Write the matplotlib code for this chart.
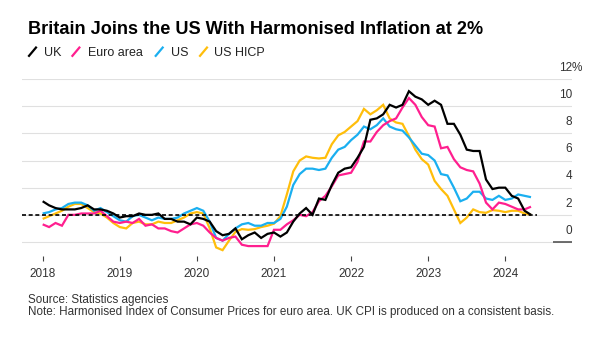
import matplotlib
matplotlib.use("Agg")
import matplotlib.pyplot as plt
from matplotlib.lines import Line2D
import numpy as np
import pandas as pd

plt.rcParams["font.family"] = ["Liberation Sans", "DejaVu Sans"]

# Monthly year-on-year inflation, Jan 2018 - May 2024 (%)
start_month = "2018-01"

uk = [3.0, 2.7, 2.5, 2.4, 2.4, 2.4, 2.5, 2.7, 2.4, 2.4, 2.3, 2.1,
      1.8, 1.9, 1.9, 2.1, 2.0, 2.0, 2.1, 1.7, 1.7, 1.5, 1.5, 1.3,
      1.8, 1.7, 1.5, 0.8, 0.5, 0.6, 1.0, 0.2, 0.5, 0.7, 0.3, 0.6,
      0.7, 0.4, 0.7, 1.5, 2.1, 2.5, 2.0, 3.2, 3.1, 4.2, 5.1, 5.4,
      5.5, 6.2, 7.0, 9.0, 9.1, 9.4, 10.1, 9.9, 10.1, 11.1, 10.7, 10.5,
      10.1, 10.4, 10.1, 8.7, 8.7, 7.9, 6.8, 6.7, 6.7, 4.6, 3.9, 4.0,
      4.0, 3.4, 3.2, 2.3, 2.0]

euro_area = [1.3, 1.1, 1.4, 1.2, 2.0, 2.0, 2.1, 2.1, 2.1, 2.3, 1.9, 1.5,
             1.4, 1.5, 1.4, 1.7, 1.2, 1.3, 1.0, 1.0, 0.8, 0.7, 1.0, 1.3,
             1.4, 1.2, 0.7, 0.3, 0.1, 0.3, 0.4, -0.2, -0.3, -0.3, -0.3, -0.3,
             0.9, 0.9, 1.3, 1.6, 2.0, 1.9, 2.2, 3.0, 3.4, 4.1, 4.9, 5.0,
             5.1, 5.9, 7.4, 7.4, 8.1, 8.6, 8.9, 9.1, 9.9, 10.6, 10.1, 9.2,
             8.6, 8.5, 6.9, 7.0, 6.1, 5.5, 5.3, 5.2, 4.3, 2.9, 2.4, 2.9,
             2.8, 2.6, 2.4, 2.4, 2.6]

us = [2.1, 2.2, 2.4, 2.5, 2.8, 2.9, 2.9, 2.7, 2.3, 2.5, 2.2, 1.9,
      1.6, 1.5, 1.9, 2.0, 1.8, 1.6, 1.8, 1.7, 1.7, 1.8, 2.1, 2.3,
      2.5, 2.3, 1.5, 0.3, 0.1, 0.6, 1.0, 1.3, 1.4, 1.2, 1.2, 1.4,
      1.4, 1.7, 2.6, 4.2, 5.0, 5.4, 5.4, 5.3, 5.4, 6.2, 6.8, 7.0,
      7.5, 7.9, 8.5, 8.3, 8.6, 9.1, 8.5, 8.3, 8.2, 7.7, 7.1, 6.5,
      6.4, 6.0, 5.0, 4.9, 4.0, 3.0, 3.2, 3.7, 3.7, 3.2, 3.1, 3.4,
      3.1, 3.2, 3.5, 3.4, 3.3]

us_hicp = [1.7, 1.9, 2.1, 2.3, 2.6, 2.8, 2.8, 2.5, 2.2, 2.1, 1.8, 1.4,
           1.1, 1.0, 1.4, 1.5, 1.3, 1.3, 1.5, 1.4, 1.4, 1.6, 1.8, 2.1,
           2.2, 2.1, 1.0, -0.4, -0.6, 0.1, 0.75, 0.95, 0.9, 0.95, 1.1, 1.2,
           1.35, 1.9, 3.5, 5.2, 6.0, 6.3, 6.2, 6.15, 6.2, 7.2, 7.85, 8.1,
           8.5, 8.9, 9.8, 9.4, 9.7, 10.1, 9.1, 8.8, 8.7, 7.8, 6.8, 6.1,
           5.7, 4.5, 3.9, 3.4, 2.4, 1.4, 1.8, 2.4, 2.2, 2.15, 2.35, 2.3,
           2.2, 2.3, 2.3, 2.1, 2.0]

target = 2.0
year_ticks = [2018, 2019, 2020, 2021, 2022, 2023, 2024]
y_ticks = [0, 2, 4, 6, 8, 10, 12]

series = [
    ("UK", uk, "#000000"),
    ("Euro area", euro_area, "#ff1f8f"),
    ("US", us, "#1aaff0"),
    ("US HICP", us_hicp, "#ffbe0b"),
]

months = pd.date_range(start_month, periods=len(uk), freq="MS")
xdec = months.year + (months.month - 1) / 12.0

W, H = 598, 343
fig = plt.figure(figsize=(W / 100, H / 100), dpi=100)
fig.patch.set_facecolor("white")

ax_left, ax_right, ax_top, ax_bottom = 22, 572, 79, 256
ax = fig.add_axes([ax_left / W, 1 - ax_bottom / H,
                   (ax_right - ax_left) / W, (ax_bottom - ax_top) / H])
ax.set_xlim(2017.732, 2024.865)
ax.set_ylim(-1.03, 12)

for s in ax.spines.values():
    s.set_visible(False)

ax.set_yticks(y_ticks)
ax.yaxis.grid(True, color="#e0e0e0", lw=0.8)
ax.tick_params(axis="y", length=0, labelleft=False)
ax.set_axisbelow(True)

ax.set_xticks(year_ticks)
ax.set_xticklabels([str(y) for y in year_ticks])
ax.tick_params(axis="x", length=3.6, width=0.8, color="#444444",
               labelsize=8.5, labelcolor="#333333", pad=5)

# value labels sit above their gridlines on the right
for v in y_ticks:
    ax.annotate(str(v), xy=(1.0, v), xycoords=("axes fraction", "data"),
                xytext=(0, 6), textcoords="offset points",
                ha="right", va="baseline", fontsize=8.5, color="#333333")
ax.annotate("%", xy=(1.0, 12), xycoords=("axes fraction", "data"),
            xytext=(0, 6), textcoords="offset points",
            ha="left", va="baseline", fontsize=8.5, color="#333333")

# darker zero-line stub under the "0" label
ax.plot([(553 - ax_left) / (ax_right - ax_left), 1.0], [0, 0],
        transform=ax.get_yaxis_transform(), color="#555555", lw=1.2,
        solid_capstyle="butt", zorder=3)

# series, first legend entry drawn on top
for i, (name, vals, col) in enumerate(series):
    ax.plot(xdec, vals, color=col, lw=1.6, zorder=10 - i,
            solid_joinstyle="miter", solid_capstyle="butt")

# 2% reference line
ax.plot([ax.get_xlim()[0], xdec[-1] + 1 / 12], [target, target],
        color="#000000", lw=1.2, ls=(0, (2.4, 1.6)), zorder=12)

# title
fig.text(28 / W, 1 - 34 / H, "Britain Joins the US With Harmonised Inflation at 2%",
         fontsize=13.1, fontweight="bold", color="#000000",
         ha="left", va="baseline")

# legend: slanted strokes followed by names
leg_items = [(28.3, 44.0), (71.7, 88.3), (155.0, 170.7), (199.3, 214.0)]
for (mx, tx), (name, vals, col) in zip(leg_items, series):
    fig.add_artist(Line2D([mx / W, (mx + 8.4) / W],
                          [1 - 56.7 / H, 1 - 46.7 / H],
                          transform=fig.transFigure, color=col, lw=1.6,
                          solid_capstyle="butt"))
    fig.text(tx / W, 1 - 55.7 / H, name, fontsize=9, color="#222222",
             ha="left", va="baseline")

# footer
fig.text(28 / W, 1 - 302.5 / H, "Source: Statistics agencies",
         fontsize=8.4, color="#333333", ha="left", va="baseline")
fig.text(28 / W, 1 - 315 / H,
         "Note: Harmonised Index of Consumer Prices for euro area. "
         "UK CPI is produced on a consistent basis.",
         fontsize=8.4, color="#333333", ha="left", va="baseline")

fig.savefig("out.png", dpi=100, facecolor="white")
